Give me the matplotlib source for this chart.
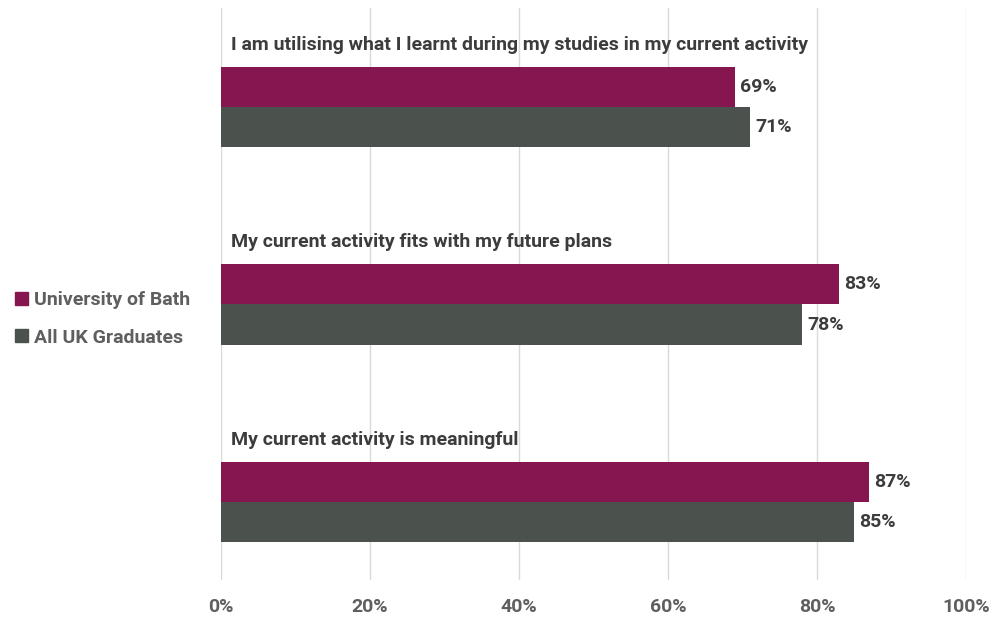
import matplotlib

matplotlib.use("Agg")
import matplotlib.pyplot as plt
from matplotlib.patches import Patch
from matplotlib.ticker import FuncFormatter

plt.rcParams["font.family"] = ["Roboto", "DejaVu Sans"]
plt.rcParams["font.weight"] = "bold"

statements = [
    "I am utilising what I learnt during my studies in my current activity",
    "My current activity fits with my future plans",
    "My current activity is meaningful",
]
series_names = ["University of Bath", "All UK Graduates"]
bath = [69, 83, 87]
all_uk = [71, 78, 85]
x_ticks = [0, 20, 40, 60, 80, 100]

PURPLE = "#861650"
GREY = "#4b514d"
TEXT_DARK = "#3c3c3c"
TEXT_MID = "#5f5f5f"
FS = 14

fig = plt.figure(figsize=(10.06, 6.19), dpi=100)
ax = fig.add_axes([221 / 1006, 1 - 580 / 619, 745 / 1006, 572 / 619])

bar_h = 0.203
for i, (b, u) in enumerate(zip(bath, all_uk)):
    ax.barh(i - bar_h / 2, b, height=bar_h, color=PURPLE, zorder=3)
    ax.barh(i + bar_h / 2, u, height=bar_h, color=GREY, zorder=3)
    ax.text(b + 0.7, i - bar_h / 2, f"{b}%", va="center", ha="left",
            fontsize=FS, fontweight="bold", color=TEXT_DARK)
    ax.text(u + 0.7, i + bar_h / 2, f"{u}%", va="center", ha="left",
            fontsize=FS, fontweight="bold", color=TEXT_DARK)
    ax.text(1.3, i - 0.314, statements[i], va="center", ha="left",
            fontsize=FS, fontweight="bold", color=TEXT_DARK)

ax.set_xlim(0, 100)
ax.set_ylim(2.395, -0.501)
ax.set_xticks(x_ticks)
ax.xaxis.set_major_formatter(FuncFormatter(lambda v, _: f"{v:.0f}%"))
ax.set_yticks([])
ax.grid(axis="x", color="#d9d9d9", linewidth=1, zorder=0)
for side in ax.spines.values():
    side.set_visible(False)
ax.tick_params(axis="x", length=0, pad=13, labelsize=FS, labelcolor=TEXT_MID)
for lbl in ax.get_xticklabels():
    lbl.set_fontweight("bold")

handles = [Patch(color=PURPLE), Patch(color=GREY)]
fig.legend(handles, series_names, loc="center left",
           bbox_to_anchor=(15 / 1006, 1 - 319 / 619), frameon=False,
           borderpad=0, borderaxespad=0,
           handlelength=0.65, handleheight=0.65, handletextpad=0.35,
           labelspacing=1.0, prop={"size": FS, "weight": "bold"},
           labelcolor=TEXT_MID)

fig.savefig("out.png", dpi=100, facecolor="white")
